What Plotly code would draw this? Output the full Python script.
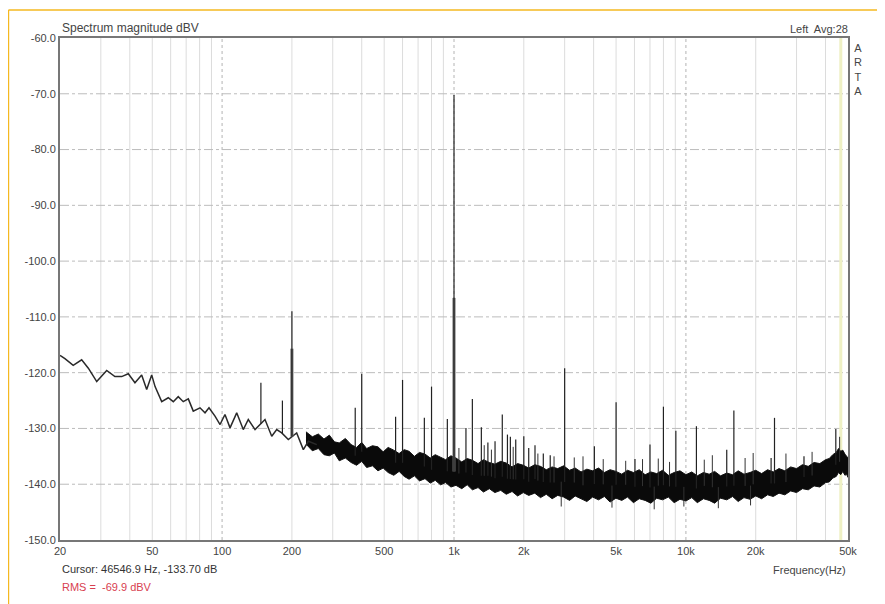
import numpy as np
import plotly.graph_objects as go

# ---- data ----
low_freq = [20.0, 21.0, 22.8, 24.8, 26.5, 28.8, 31.8, 34.5, 36.9, 39.4, 42.1, 45.0, 47.3, 49.7,
            51.4, 54.9, 58.6, 61.6, 64.7, 68.0, 71.5, 75.1, 80.3, 84.4, 87.8, 93.2, 98.0, 102.9,
            108.2, 115.6, 123.4, 129.7, 138.7, 153.1, 163.7, 172.0, 180.8, 193.0, 209.7, 224.0,
            235.6, 256.0]
low_db = [-116.9, -117.5, -118.7, -117.7, -119.2, -121.6, -119.6, -120.7, -120.7, -120.2, -121.8,
          -120.4, -123.0, -120.4, -122.5, -125.2, -124.5, -125.2, -124.3, -125.2, -124.7, -126.9,
          -126.3, -127.2, -126.3, -127.8, -129.3, -127.5, -129.9, -127.2, -130.2, -128.4, -130.2,
          -128.4, -131.4, -130.2, -130.8, -132.0, -130.8, -133.8, -132.3, -132.9]

band_freq = [230, 245, 260, 275, 290, 305, 320, 340, 360, 380, 400, 420, 445, 470, 495, 520, 550,
             580, 610, 640, 675, 710, 750, 790, 830, 875, 920, 970, 1020, 1080, 1140, 1200, 1270,
             1340, 1420, 1500, 1590, 1680, 1780, 1880, 1990, 2100, 2230, 2360, 2500, 2650, 2800,
             2970, 3150, 3330, 3530, 3740, 3960, 4200, 4450, 4710, 4990, 5290, 5600, 5940, 6290,
             6670, 7060, 7480, 7930, 8400, 8900, 9430, 10000, 10600, 11200, 11900, 12600, 13300,
             14100, 15000, 15900, 16800, 17800, 18900, 20000, 21200, 22500, 23800, 25200, 26700,
             28300, 30000, 31800, 33700, 35700, 37800, 40000, 41500, 43000, 44500, 45500, 46500,
             47500, 48500, 49300, 50000]
band_hi = [-130.6, -131.5, -131.0, -131.9, -131.2, -132.4, -132.6, -131.8, -132.9, -133.4, -132.5,
           -133.6, -133.1, -133.3, -134.2, -133.4, -133.9, -134.5, -133.8, -134.1, -135.0, -134.3,
           -134.6, -135.3, -134.7, -135.1, -135.6, -134.9, -135.3, -136.0, -135.4, -135.7, -136.3,
           -135.6, -136.1, -136.4, -135.9, -136.2, -136.9, -136.3, -136.6, -137.1, -136.5, -136.8,
           -137.4, -136.9, -137.2, -136.7, -137.5, -137.1, -137.8, -137.3, -137.6, -137.1, -137.9,
           -137.4, -137.7, -138.2, -137.5, -137.9, -137.4, -138.3, -137.8, -138.1, -137.5, -138.4,
           -137.9, -137.6, -138.3, -137.8, -138.5, -137.9, -138.2, -137.7, -138.5, -138.0, -138.3,
           -137.6, -138.2, -137.9, -137.5, -138.1, -137.4, -137.8, -137.2, -137.6, -136.9, -137.2,
           -136.5, -136.8, -136.1, -136.3, -135.6, -135.4, -134.7, -134.3, -133.6, -134.1, -133.9,
           -134.6, -134.9, -135.3]
band_lo = [-132.8, -134.0, -133.6, -134.7, -134.9, -134.4, -135.8, -135.3, -136.1, -136.6, -135.9,
           -137.0, -136.7, -137.6, -137.1, -137.9, -138.4, -137.7, -138.6, -139.1, -138.5, -139.4,
           -139.0, -139.8, -139.3, -140.1, -139.7, -140.5, -140.2, -140.8, -140.1, -141.0, -140.6,
           -141.4, -140.8, -141.5, -141.1, -141.8, -141.3, -142.1, -141.5, -142.0, -141.6, -142.4,
           -141.8, -142.6, -142.0, -142.3, -142.9, -142.1, -142.6, -143.1, -142.3, -142.8, -142.2,
           -143.2, -142.5, -142.9, -142.3, -143.3, -142.6, -142.9, -143.4, -142.5, -142.8, -142.3,
           -143.3, -142.7, -143.0, -142.4, -143.3, -142.6, -142.9, -143.4, -142.5, -142.8, -142.2,
           -143.1, -142.4, -142.7, -142.1, -142.6, -141.9, -142.2, -141.6, -141.9, -141.2, -141.5,
           -140.8, -141.0, -140.3, -140.5, -139.7, -139.6, -138.9, -138.6, -137.9, -138.3, -137.7,
           -138.4, -138.2, -138.8]

spike_freq = [147, 182, 200, 375, 400, 560, 600, 745, 800, 936, 1000, 1126, 1200, 1312, 1400,
              1503, 1615, 1700, 1750, 1846, 2000, 2100, 2235, 2427, 2600, 3000, 4030, 5000, 6030,
              7000, 8000, 9050, 11100, 15000, 16100, 23300, 24100, 32300, 44300]
spike_db = [-121.8, -125.0, -109.0, -126.3, -120.2, -127.9, -121.3, -128.1, -122.5, -128.3, -70.2,
            -129.9, -124.7, -129.8, -132.5, -132.3, -127.5, -131.1, -131.5, -132.0, -131.4, -133.5,
            -133.0, -134.5, -134.8, -119.2, -133.2, -125.3, -135.5, -132.9, -126.1, -130.4, -129.6,
            -133.8, -126.8, -135.3, -128.1, -135.0, -130.1]

# small noise peaks and dips on the floor
grass_freq = [1050, 1350, 1450, 1800, 2300, 2700, 2900, 3300, 3600, 4400, 4800, 5500, 6500,
              7300, 7600, 8500, 9800, 12000, 13000, 13800, 18000, 19000, 19500, 27000, 35000, 46000]
grass_db = [-133.5, -133.0, -133.8, -133.3, -134.5, -135.0, -144.0, -135.2, -135.0, -135.5,
            -144.2, -135.8, -135.5, -144.5, -135.4, -136.0, -144.0, -135.6, -134.8, -144.3,
            -135.3, -143.8, -134.4, -134.5, -134.2, -131.5]

wide_freq = [200, 1000]
wide_db = [-115.7, -106.6]

cursor_freq = 46546.9
y_ticks = [-60, -70, -80, -90, -100, -110, -120, -130, -140, -150]
x_tick_vals = [20, 50, 100, 200, 500, 1000, 2000, 5000, 10000, 20000, 50000]
x_tick_text = ["20", "50", "100", "200", "500", "1k", "2k", "5k", "10k", "20k", "50k"]

# ---- base of each spike taken from the drawn floor ----
pairs = [(f, v) for f, v in zip(low_freq, low_db) if f < band_freq[0]]
pairs += [(f, (h + l) / 2) for f, h, l in zip(band_freq, band_hi, band_lo)]
floor_logf = np.log10([p[0] for p in pairs])
floor_db = np.array([p[1] for p in pairs])


def base_at(f):
    return float(np.interp(np.log10(f), floor_logf, floor_db))


def stems(freqs, levels):
    xs, ys = [], []
    for f, v in zip(freqs, levels):
        xs += [f, f, None]
        ys += [base_at(f), v, None]
    return xs, ys


sx, sy = stems(spike_freq, spike_db)
gx, gy = stems(grass_freq, grass_db)
wx, wy = stems(wide_freq, wide_db)

fig = go.Figure()
fig.add_trace(go.Scatter(x=band_freq, y=band_lo, mode="lines",
                         line=dict(color="#111", width=1), hoverinfo="skip"))
fig.add_trace(go.Scatter(x=band_freq, y=band_hi, mode="lines", fill="tonexty",
                         fillcolor="#0a0a0a", line=dict(color="#111", width=1), hoverinfo="skip"))
fig.add_trace(go.Scatter(x=gx, y=gy, mode="lines",
                         line=dict(color="#333", width=1), hoverinfo="skip"))
fig.add_trace(go.Scatter(x=low_freq, y=low_db, mode="lines",
                         line=dict(color="#2a2a2a", width=1.5), hoverinfo="skip"))
fig.add_trace(go.Scatter(x=wx, y=wy, mode="lines",
                         line=dict(color="#666", width=3), hoverinfo="skip"))
fig.add_trace(go.Scatter(x=sx, y=sy, mode="lines",
                         line=dict(color="#222", width=1.2), hoverinfo="skip"))

minor = [30, 40, 50, 60, 70, 80, 90, 200, 300, 400, 500, 600, 700, 800, 900,
         2000, 3000, 4000, 5000, 6000, 7000, 8000, 9000, 20000, 30000, 40000]
shapes = []
for m in minor:
    shapes.append(dict(type="line", xref="x", yref="paper", x0=m, x1=m, y0=0, y1=1,
                       line=dict(color="#dcdcdc", width=1), layer="below"))
for m in [100, 1000, 10000]:
    shapes.append(dict(type="line", xref="x", yref="paper", x0=m, x1=m, y0=0, y1=1,
                       line=dict(color="#b4b4b4", width=1, dash="dot"), layer="below"))
for v in y_ticks[1:-1]:
    shapes.append(dict(type="line", xref="paper", yref="y", x0=0, x1=1, y0=v, y1=v,
                       line=dict(color="#bcbcbc", width=1, dash="dashdot"), layer="below"))
# cursor
shapes.append(dict(type="line", xref="x", yref="paper", x0=cursor_freq, x1=cursor_freq,
                   y0=0, y1=1, line=dict(color="#eef0c4", width=3), layer="below"))
# outer orange frame (top and left)
shapes.append(dict(type="line", xref="paper", yref="paper", x0=-0.0654, x1=1.1, y0=1.0558,
                   y1=1.0558, line=dict(color="#f5b820", width=1.5)))
shapes.append(dict(type="line", xref="paper", yref="paper", x0=-0.0654, x1=-0.0654, y0=-0.2,
                   y1=1.0558, line=dict(color="#f5b820", width=1.5)))

fnt = "Liberation Sans, Arial, sans-serif"
annotations = [
    dict(text="Spectrum magnitude dBV", x=0.0, y=1.0199, xref="paper", yref="paper",
         xanchor="left", yanchor="middle", showarrow=False, font=dict(size=12, color="#444")),
    dict(text="Left  Avg:28", x=1.0025, y=1.0185, xref="paper", yref="paper",
         xanchor="right", yanchor="middle", showarrow=False, font=dict(size=11, color="#444")),
    dict(text="A<br>R<br>T<br>A", x=1.0127, y=0.996, xref="paper", yref="paper",
         xanchor="center", yanchor="top", showarrow=False, align="center",
         font=dict(size=11, color="#444")),
    dict(text="Cursor: 46546.9 Hz, -133.70 dB", x=0.0, y=-0.0578, xref="paper", yref="paper",
         xanchor="left", yanchor="middle", showarrow=False, font=dict(size=11, color="#333")),
    dict(text="RMS =  -69.9 dBV", x=0.0, y=-0.0936, xref="paper", yref="paper",
         xanchor="left", yanchor="middle", showarrow=False, font=dict(size=11, color="#d84050")),
    dict(text="Frequency(Hz)", x=1.0, y=-0.0598, xref="paper", yref="paper",
         xanchor="right", yanchor="middle", showarrow=False, font=dict(size=11, color="#444")),
]

fig.update_layout(
    width=877, height=596,
    margin=dict(l=52, r=37, t=30, b=64, autoexpand=False),
    paper_bgcolor="white", plot_bgcolor="white",
    showlegend=False,
    font=dict(family=fnt, size=11, color="#444"),
    shapes=shapes, annotations=annotations,
    xaxis=dict(type="log", range=[np.log10(20), np.log10(50000)], tickvals=x_tick_vals,
               ticktext=x_tick_text, showgrid=False, zeroline=False, showline=True,
               linecolor="#777", linewidth=2, mirror=True, ticks="", automargin=False,
               tickfont=dict(size=11, color="#444")),
    yaxis=dict(range=[-150, -60], tickvals=y_ticks,
               ticktext=[f"{v:.1f}" for v in y_ticks], showgrid=False, zeroline=False,
               showline=True, linecolor="#777", linewidth=2, mirror=True, ticks="",
               automargin=False, tickfont=dict(size=11, color="#444")),
)

fig.write_html("out.html")
